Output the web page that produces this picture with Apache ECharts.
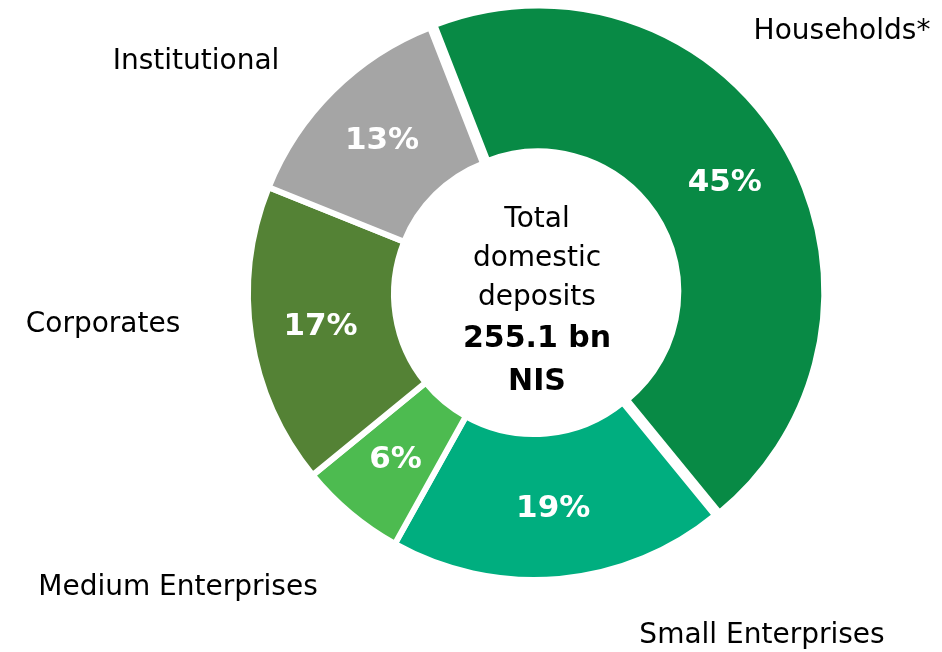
<!DOCTYPE html>
<html>
<head>
<meta charset="utf-8">
<script src="https://cdn.jsdelivr.net/npm/echarts@6/dist/echarts.min.js"></script>
<style>html,body{margin:0;padding:0;background:#fff;}#c{width:942px;height:652px;}</style>
</head>
<body>
<div id="c"></div>
<script>
var categories = ['Households*', 'Small Enterprises', 'Medium Enterprises', 'Corporates', 'Institutional'];
var shares = [45, 19, 6, 17, 13];
var colors = ['#088A45', '#00AE7F', '#4DBB50', '#548235', '#A5A5A5'];
var centerLines = ['Total', 'domestic', 'deposits'];
var centerTotal = ['255.1 bn', 'NIS'];

// outer name label anchor points (centre of text)
var namePos = [[842, 32], [762, 636], [178, 588], [103, 325], [196, 62]];

var FONT = '"DejaVu Sans", sans-serif';
var chart = echarts.init(document.getElementById('c'));

var graphics = categories.map(function (name, i) {
  return {
    type: 'text',
    x: namePos[i][0], y: namePos[i][1],
    style: {
      text: name, fill: '#000', font: '28px ' + FONT,
      align: 'center', verticalAlign: 'middle'
    }
  };
});
graphics.push({
  type: 'text', x: 537, y: 302,
  style: {
    text: '{r|' + centerLines.join('}\n{r|') + '}\n{b|' + centerTotal.join('}\n{b|') + '}',
    align: 'center', verticalAlign: 'middle',
    rich: {
      r: { fontFamily: FONT, fontSize: 28, lineHeight: 39, fill: '#000', align: 'center' },
      b: { fontFamily: FONT, fontSize: 30, fontWeight: 'bold', lineHeight: 43, fill: '#000', align: 'center' }
    }
  }
});

chart.setOption({
  animation: false,
  backgroundColor: '#ffffff',
  series: [{
    type: 'pie',
    center: [534, 294],
    radius: [140, 286],
    startAngle: 111.3,
    clockwise: true,
    selectedMode: 'single',
    selectedOffset: 5,
    avoidLabelOverlap: false,
    label: {
      show: true, position: 'inside', color: '#fff',
      fontFamily: FONT, fontSize: 31, fontWeight: 'bold',
      formatter: function (p) { return p.value + '%'; }
    },
    labelLine: { show: false },
    itemStyle: { borderColor: '#fff', borderWidth: 6 },
    emphasis: { disabled: true },
    data: categories.map(function (c, i) {
      return { name: c, value: shares[i], selected: i === 0, itemStyle: { color: colors[i] } };
    })
  }],
  graphic: graphics
});
</script>
</body>
</html>
